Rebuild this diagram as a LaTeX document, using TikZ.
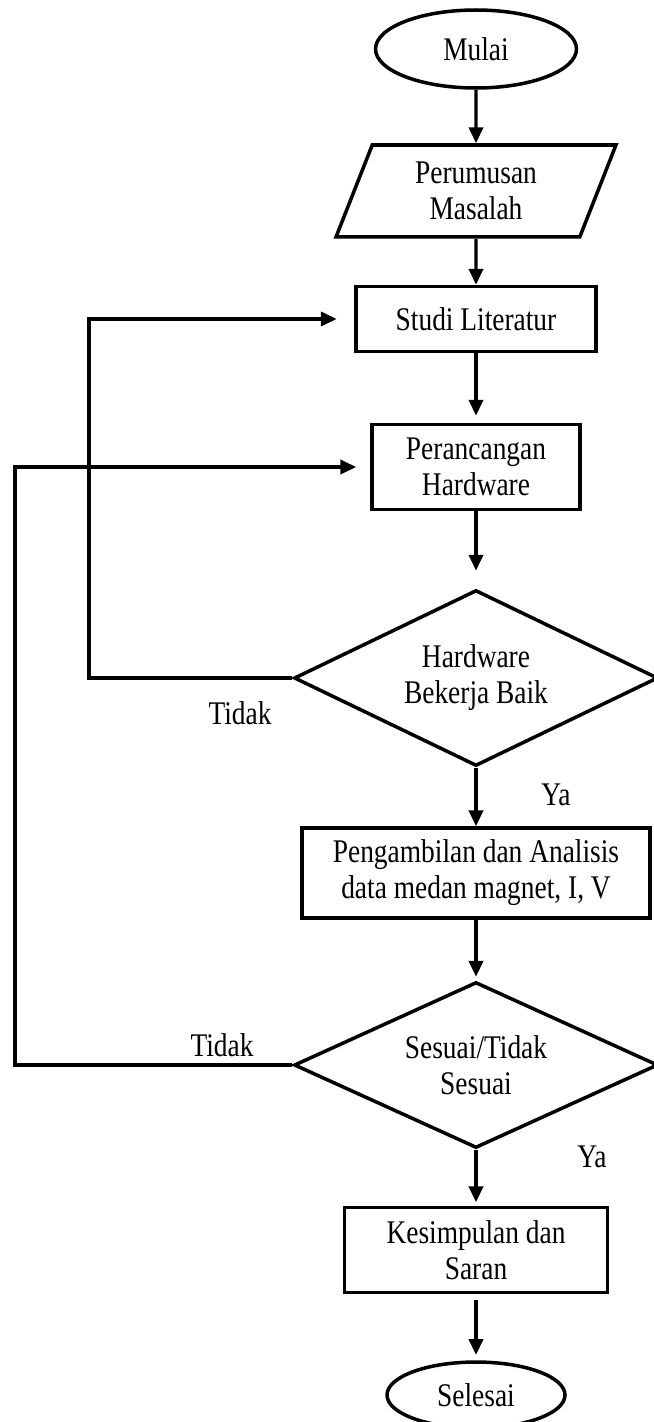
\documentclass[tikz,border=0pt]{standalone}
\usepackage{fontspec}
\setmainfont[FakeStretch=0.83]{Liberation Serif}
\usetikzlibrary{shapes.geometric,arrows.meta}
\begin{document}
\begin{tikzpicture}[x=0.02cm,y=-0.02cm,
    every node/.style={font=\fontsize{18.8}{20.5}\selectfont},
    kotak/.style={draw,line width=2pt,inner sep=0pt,align=center},
    terminal/.style={kotak,ellipse},
    proses/.style={kotak,rectangle},
    keputusan/.style={kotak,diamond,aspect=2,minimum width=7.28cm},
    masukan/.style={kotak,trapezium,trapezium left angle=58,trapezium right angle=122,trapezium stretches body},
    panah/.style={line width=1.9pt,-{Triangle[length=9pt,width=8pt]}}]
  \useasboundingbox (0,0) rectangle (653,1422);
  \node[terminal,minimum width=4.02cm,minimum height=1.56cm] (mulai) at (476,49) {Mulai};
  \node[masukan,minimum width=5.6cm,minimum height=1.84cm] (masalah) at (476,191) {Perumusan\\Masalah};
  \node[proses,minimum width=4.8cm,minimum height=1.3cm] (studi) at (476,319) {Studi Literatur};
  \node[proses,minimum width=4.16cm,minimum height=1.7cm] (rancang) at (476,467) {Perancangan\\Hardware};
  \node[keputusan,minimum height=3.52cm] (cek1) at (476,678) {Hardware\\Bekerja Baik};
  \node[proses,minimum width=6.96cm,minimum height=1.8cm] (ambil) at (476,873) {Pengambilan dan Analisis\\data medan magnet, I, V};
  \node[keputusan,minimum height=3.32cm] (cek2) at (476,1065) {Sesuai/Tidak\\Sesuai};
  \node[proses,minimum width=5.26cm,minimum height=1.7cm] (simpul) at (476,1250) {Kesimpulan dan\\Saran};
  \node[terminal,minimum width=3.56cm,minimum height=1.32cm] (selesai) at (476,1395) {Selesai};
  \node (tidak1) at (240,713) {Tidak};
  \node (ya1) at (556,795) {Ya};
  \node (tidak2) at (222,1045) {Tidak};
  \node (ya2) at (592,1157) {Ya};
  \coordinate (belok1) at (89,678);
  \coordinate (belok2) at (15,1065);
  \draw[panah] (mulai) -- (masalah);
  \draw[panah] (masalah) -- (studi);
  \draw[panah,shorten >=4pt] (studi) -- (rancang);
  \draw[panah,shorten >=10pt] (rancang) -- (cek1);
  \draw[panah] (cek1) -- (ambil);
  \draw[panah,shorten >=2pt] (ambil) -- (cek2);
  \draw[panah,shorten >=2pt] (cek2) -- (simpul);
  \draw[panah,shorten <=3pt,shorten >=3pt] (simpul) -- (selesai);
  \draw[panah,shorten >=10pt] (cek1.west) -- (belok1) |- (studi.west);
  \draw[panah,shorten >=8pt] (cek2.west) -- (belok2) |- (rancang.west);
\end{tikzpicture}
\end{document}
